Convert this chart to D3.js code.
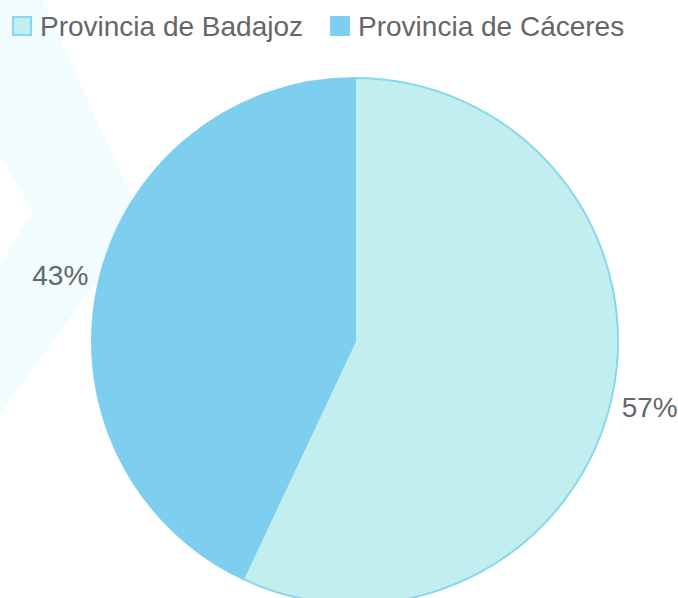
<html>
  <head>
    <meta charset="UTF-8">
    <script src="https://d3js.org/d3.v7.min.js"></script>
    <style type="text/css">
    body {
      margin: 0;
      background: #fff;
      font-family: 'Liberation Sans', Arial, sans-serif;
    }
    </style>
  </head>
  <body>
  </body>
  <script>
    // data
    var provinces = ["Provincia de Badajoz", "Provincia de Cáceres"];
    var shares = [57, 43];
    var fills = ["#c3eef0", "#7ecef0"];
    var borders = ["#86d8ec", "#7ecef0"];

    var width = 678, height = 598;
    var cx = 355, cy = 341, radius = 263;

    var svg = d3.select("body")
      .append("svg")
        .attr("width", width)
        .attr("height", height);

    // faint chevron in the background
    svg.append("path")
      .attr("d", "M0,0 L42,0 L142,220 L0,413 L0,266 L33,210 L0,156 Z")
      .style("fill", "#f0fcfe");

    var data = provinces.map(function(p, i) {
      return {name: p, value: shares[i], fill: fills[i], border: borders[i]};
    });
    var total = d3.sum(shares);

    var pie = d3.pie()
      .sort(null)
      .value(function(d) { return d.value; });

    var arc = d3.arc().innerRadius(0).outerRadius(radius);
    var labelArc = d3.arc().innerRadius(302).outerRadius(302);

    var g = svg.append("g")
      .attr("transform", "translate(" + cx + "," + cy + ")");

    g.selectAll("path.slice")
      .data(pie(data))
      .enter()
      .append("path")
        .attr("class", "slice")
        .attr("d", arc)
        .style("fill", function(d) { return d.data.fill; })
        .style("stroke", function(d) { return d.data.border; })
        .style("stroke-width", 2);

    g.selectAll("text.pct")
      .data(pie(data))
      .enter()
      .append("text")
        .attr("class", "pct")
        .attr("transform", function(d) { return "translate(" + labelArc.centroid(d) + ")"; })
        .attr("text-anchor", "middle")
        .attr("dy", "0.35em")
        .style("font-size", "28px")
        .style("fill", "#666")
        .text(function(d) { return Math.round(d.data.value / total * 100) + "%"; });

    // legend across the top
    var legend = svg.append("g").attr("transform", "translate(12,0)");
    var lx = 0;
    data.forEach(function(d) {
      var item = legend.append("g").attr("transform", "translate(" + lx + ",0)");
      item.append("rect")
        .attr("x", 1)
        .attr("y", 17)
        .attr("width", 18)
        .attr("height", 18)
        .style("fill", d.fill)
        .style("stroke", d.border)
        .style("stroke-width", 2);
      var t = item.append("text")
        .attr("x", 28)
        .attr("y", 36)
        .style("font-size", "28px")
        .style("fill", "#666")
        .text(d.name);
      lx += 28 + t.node().getComputedTextLength() + 27;
    });
  </script>
</html>
